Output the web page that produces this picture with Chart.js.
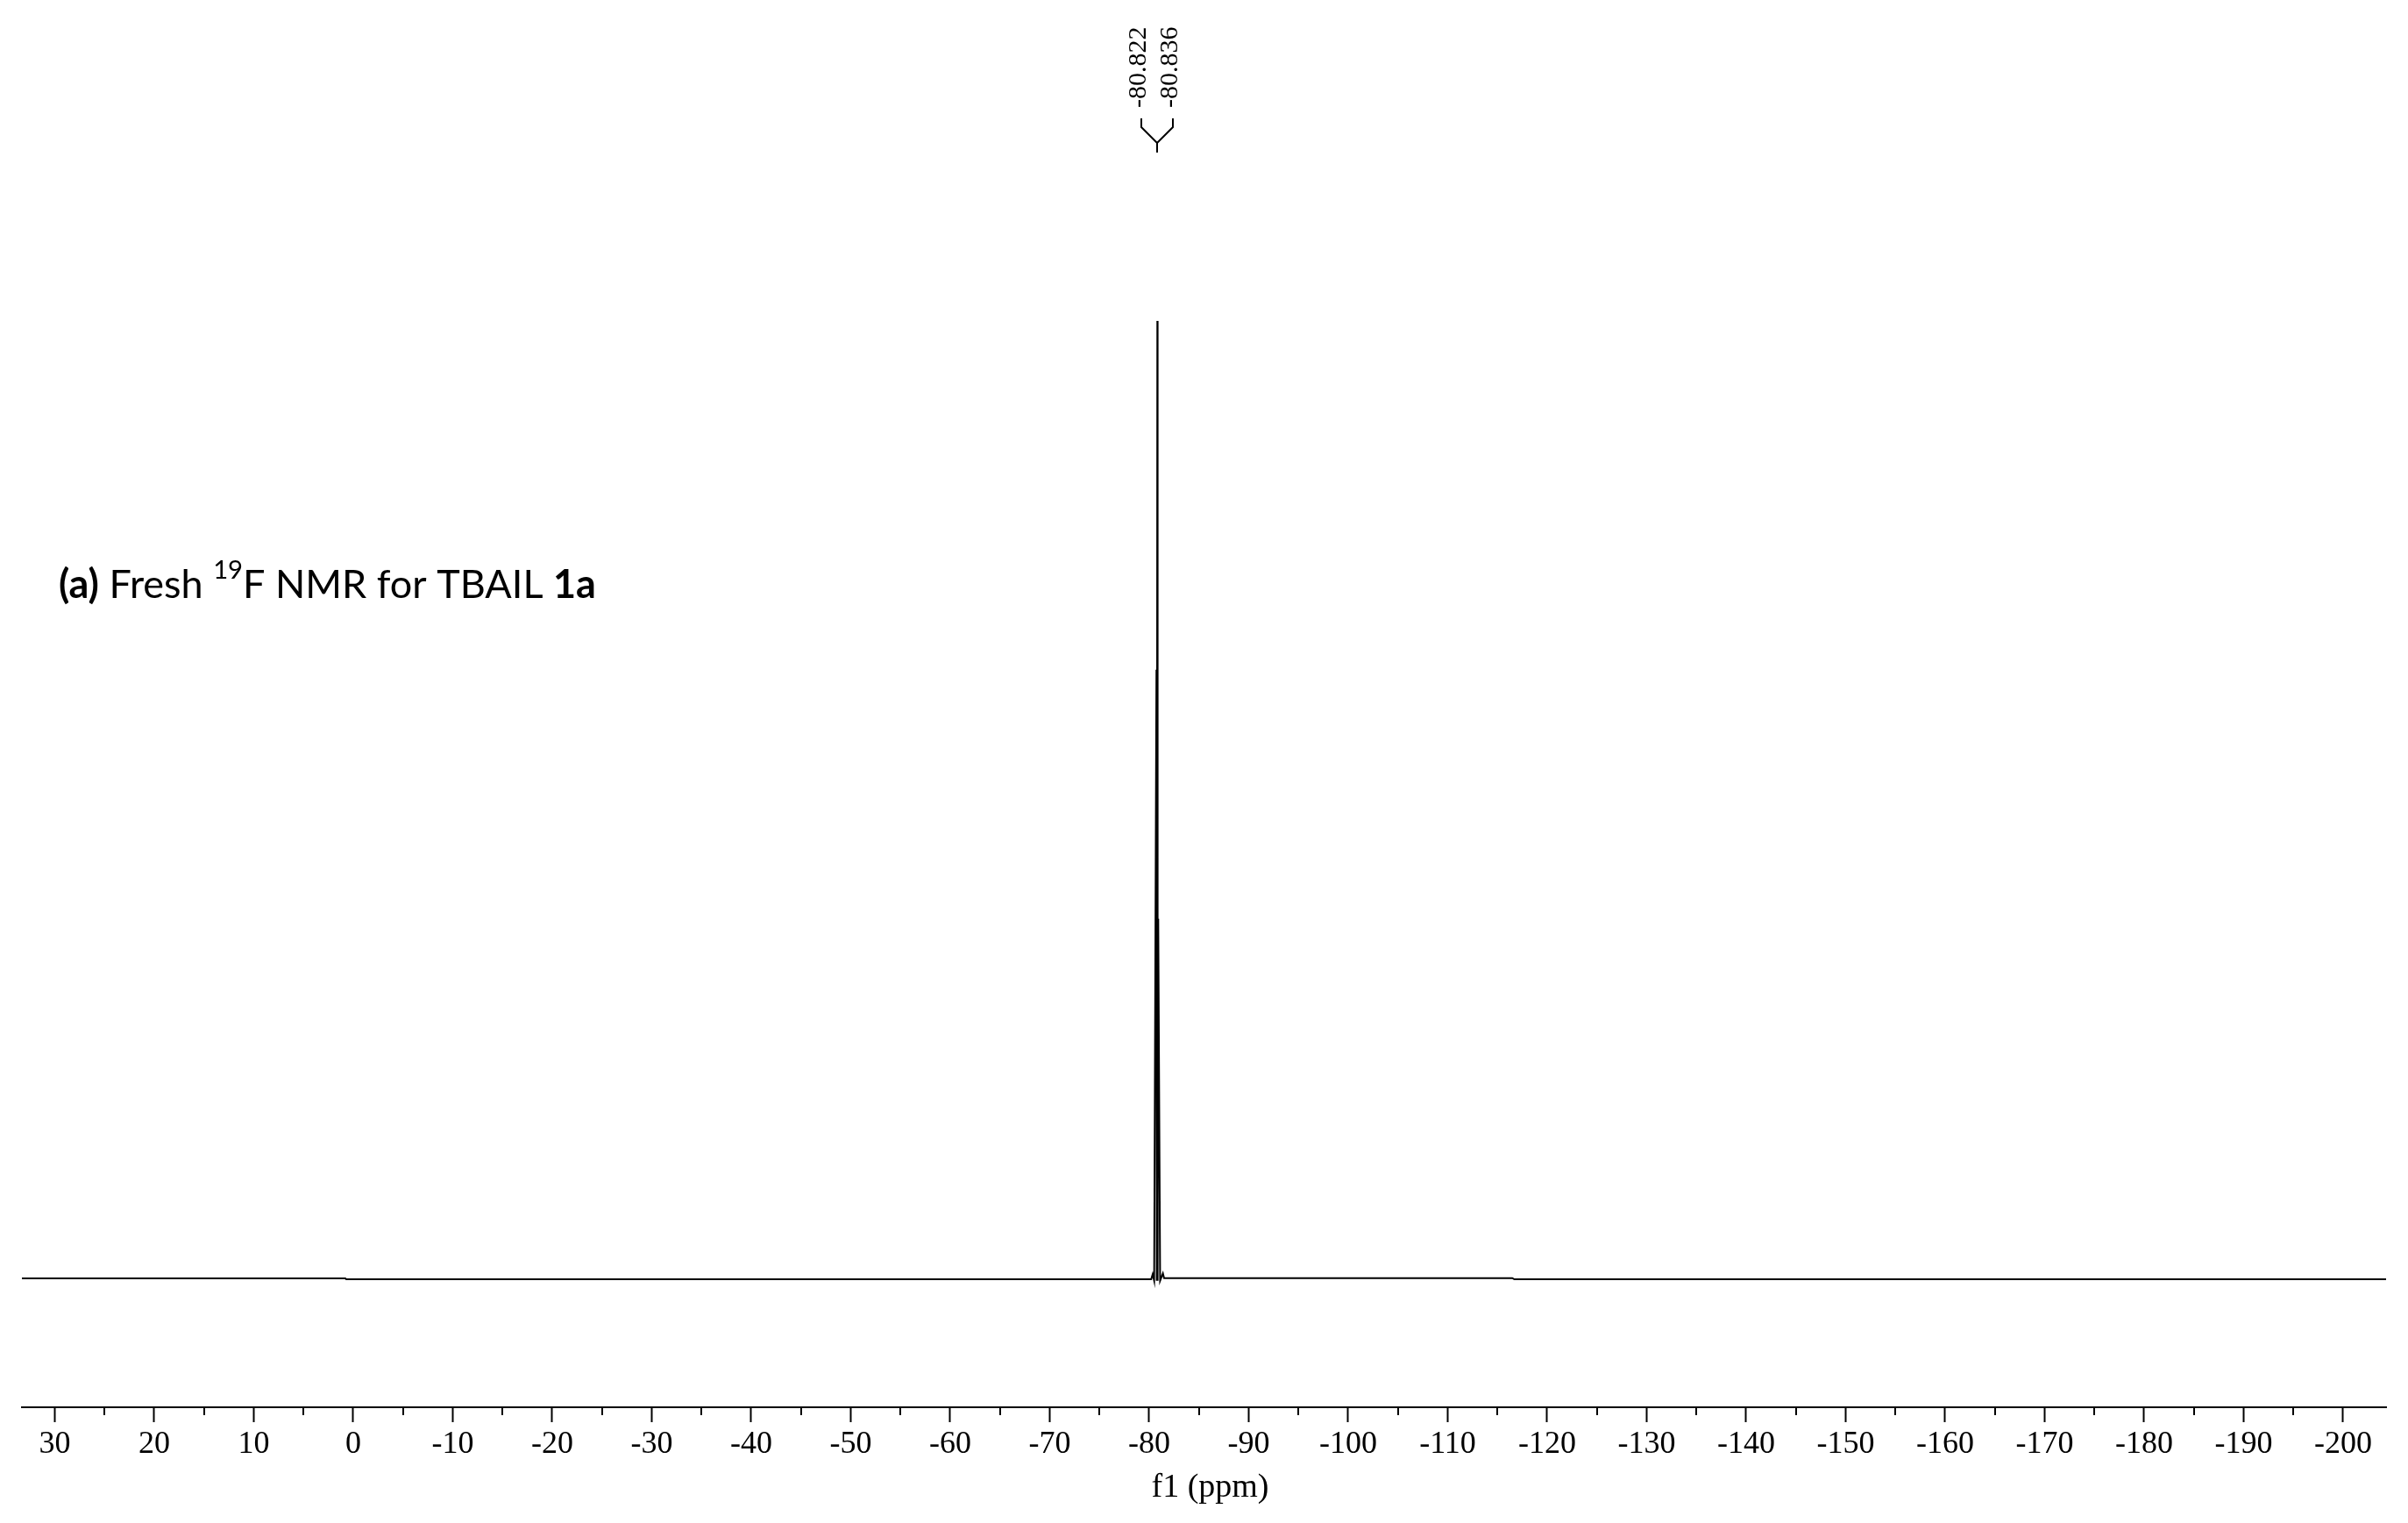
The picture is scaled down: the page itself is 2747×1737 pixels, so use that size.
<!DOCTYPE html>
<html>
<head>
<meta charset="utf-8">
<script src="https://cdn.jsdelivr.net/npm/chart.js@4.4.0/dist/chart.umd.min.js"></script>
<style>
  html, body { margin: 0; padding: 0; background: #fff; }
  canvas { display: block; }
</style>
</head>
<body>
<canvas id="nmr" width="2747" height="1737"></canvas>
<script>
// 19F spectrum, shift in ppm and relative intensity
const shift = [33.30, 0.8, 0.7, -80.20, -80.35, -80.50, -80.73, -80.76, -80.82, -80.85, -80.91, -81.10, -81.38, -81.50, -116.5, -116.7, -204.32];
const intensity = [0.0005, 0.0005, -0.0005, -0.0005, 0.0047, -0.002, 0.636, -0.002, 1.0, -0.002, 0.376, -0.002, 0.0056, 0.0007, 0.0007, -0.0005, -0.0005];

const peakLabels = ['-80.822', '-80.836'];
const peakShifts = [-80.822, -80.836];

const tickStep = 5;
const labelStep = 10;
const axisTitle = 'f1 (ppm)';

const isMajor = v => Math.abs(Math.round(v) % labelStep) === 0;

const nmrDecor = {
  id: 'nmrDecor',
  afterDraw(chart) {
    const ctx = chart.ctx;
    const xs = chart.scales.x;
    const axisY = Math.round(xs.top);
    ctx.save();
    ctx.strokeStyle = '#000';
    ctx.fillStyle = '#000';
    ctx.lineWidth = 2;

    // minor ticks
    xs.ticks.forEach(t => {
      if (isMajor(t.value)) return;
      const px = Math.round(xs.getPixelForValue(t.value));
      ctx.beginPath();
      ctx.moveTo(px, axisY);
      ctx.lineTo(px, axisY + 9);
      ctx.stroke();
    });

    // axis title, sits a little right of centre
    ctx.font = '38px "Liberation Serif"';
    ctx.textAlign = 'center';
    ctx.textBaseline = 'middle';
    ctx.fillText(axisTitle, (xs.left + xs.right) / 2 + 7, 1697);

    // peak labels with bracket
    const peakX = Math.round(xs.getPixelForValue((peakShifts[0] + peakShifts[1]) / 2));
    ctx.font = '30px "Liberation Serif"';
    peakLabels.forEach((lab, i) => {
      const lx = peakX + (i === 0 ? -18 : 18);
      ctx.save();
      ctx.translate(lx + 5, 123);
      ctx.rotate(-Math.PI / 2);
      ctx.textAlign = 'left';
      ctx.textBaseline = 'alphabetic';
      ctx.fillText(lab, 0, 0);
      ctx.restore();
      ctx.beginPath();
      ctx.moveTo(lx, 135);
      ctx.lineTo(lx, 145);
      ctx.lineTo(peakX, 163);
      ctx.stroke();
    });
    ctx.beginPath();
    ctx.moveTo(peakX, 163);
    ctx.lineTo(peakX, 174);
    ctx.stroke();

    // sample note
    const parts = [
      ['bold', '(a)', 0, 1],
      ['normal', ' Fresh ', 0, 1],
      ['normal', '19', -22, 0.65],
      ['normal', 'F NMR for TBAIL ', 0, 1],
      ['bold', '1a', 0, 1]
    ];
    const font = (w, s) => `${w} ${s}px Lato`;
    let total = 0;
    parts.forEach(p => { ctx.font = font(p[0], 44 * p[3]); total += ctx.measureText(p[1]).width; });
    const size = 44 * 613 / total;
    let tx = 67;
    ctx.textAlign = 'left';
    ctx.textBaseline = 'alphabetic';
    parts.forEach(p => {
      ctx.font = font(p[0], size * p[3]);
      ctx.fillText(p[1], tx, 682 + p[2]);
      tx += ctx.measureText(p[1]).width;
    });
    ctx.restore();
  }
};

new Chart(document.getElementById('nmr'), {
  type: 'line',
  data: {
    datasets: [{
      data: shift.map((s, i) => ({ x: s, y: intensity[i] })),
      borderColor: '#000',
      borderWidth: 2,
      pointRadius: 0,
      tension: 0,
      fill: false
    }]
  },
  options: {
    responsive: false,
    animation: false,
    devicePixelRatio: 1,
    layout: { padding: { left: 25, right: 25, top: 0, bottom: 0 } },
    plugins: { legend: { display: false }, tooltip: { enabled: false } },
    scales: {
      x: {
        type: 'linear',
        reverse: true,
        min: -204.32,
        max: 33.30,
        afterFit: s => { s.height = 132; },
        border: { display: true, color: '#000', width: 2 },
        grid: {
          drawOnChartArea: false,
          drawTicks: true,
          tickLength: 17,
          tickWidth: 2,
          tickColor: c => isMajor(c.tick.value) ? '#000' : 'rgba(0,0,0,0)'
        },
        ticks: {
          stepSize: tickStep,
          includeBounds: false,
          autoSkip: false,
          maxRotation: 0,
          padding: 4,
          color: '#000',
          font: { family: '"Liberation Serif"', size: 36 },
          callback: v => isMajor(v) ? String(v) : ''
        },
        title: { display: false }
      },
      y: { display: false, min: -0.1341, max: 1.3350 }
    }
  },
  plugins: [nmrDecor]
});
</script>
</body>
</html>
